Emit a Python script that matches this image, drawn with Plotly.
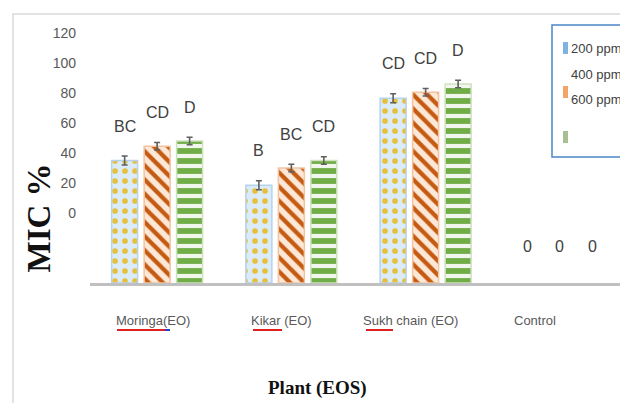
import plotly.graph_objects as go

# ---------------- data ----------------
categories = ["Moringa(EO)", "Kikar (EO)", "Sukh chain (EO)", "Control"]
series_names = ["200 ppm", "400 ppm", "600 ppm"]
mic_200 = [35.0, 18.5, 76.5, 0]
mic_400 = [44.5, 30.0, 80.5, 0]
mic_600 = [48.0, 35.0, 86.0, 0]
err_200 = [3.0, 3.0, 3.0, 0]
err_400 = [2.5, 2.5, 2.5, 0]
err_600 = [2.5, 2.5, 2.5, 0]
letters_200 = ["BC", "B", "CD", ""]
letters_400 = ["CD", "BC", "CD", ""]
letters_600 = ["D", "CD", "D", ""]
y_ticks = [0, 20, 40, 60, 80, 100, 120]

# ---------------- layout constants ----------------
OFF = 8                     # page body margin
W, H = 628 - OFF, 411 - 2 * OFF   # avoid a vertical scrollbar
# plot area in page pixels: x 90..627, y 26..283
ML = 90 - OFF
MR = W - (627 - OFF)
MT = 26 - OFF
MB = H - (283 - OFF)
PW, PH = W - ML - MR, H - MT - MB
Y_MIN, Y_MAX = -46.67, 124.67   # horizontal axis sits at the axis minimum
BASE = Y_MIN
SLOT = 0.242                      # group offset of each bar (category units)

def px_x(px):  # page px -> paper
    return (px - 90) / PW

def px_y(py):  # page px -> paper
    return (283 - py) / PH

styles = [
    dict(shape=".", fg="#e6c03a", bg="#dcebf8", line="#b7d2ec", size=10, sol=0.25),
    dict(shape="\\", fg="#c55a11", bg="#fde8d8", line="#f3c3a0", size=10, sol=0.42),
    dict(shape="-", fg="#70ad47", bg="#f1f7ec", line="#cfe2c0", size=10, sol=0.58),
]
all_vals = [mic_200, mic_400, mic_600]
all_errs = [err_200, err_400, err_600]
all_letters = [letters_200, letters_400, letters_600]

fig = go.Figure()
for j, (name, vals, errs, st) in enumerate(zip(series_names, all_vals, all_errs, styles)):
    ys = [None if c == "Control" else v - BASE for c, v in zip(categories, vals)]
    fig.add_trace(go.Bar(
        name=name, x=categories, y=ys, base=BASE,
        marker=dict(
            color=st["bg"],
            line=dict(color=st["line"], width=1.5),
            pattern=dict(shape=st["shape"], fgcolor=st["fg"], bgcolor=st["bg"],
                         size=st["size"], solidity=st["sol"], fillmode="replace"),
        ),
        error_y=dict(type="data", array=[None if c == "Control" else e for c, e in zip(categories, errs)],
                     color="#5f5f5f", thickness=1.6, width=3),
        showlegend=False,
    ))

SANS = "Liberation Sans, Arial, sans-serif"
SERIF = "Liberation Serif, Times New Roman, serif"

annotations = []
letter_font = dict(family=SANS, size=16, color="#404040")
for j in range(3):
    for i, c in enumerate(categories):
        xpos = i + (j - 1) * SLOT
        if c == "Control":
            annotations.append(dict(x=xpos, y=-22, xref="x", yref="y", text=str(all_vals[j][i]),
                                    showarrow=False, font=letter_font,
                                    xanchor="center", yanchor="middle"))
        else:
            annotations.append(dict(x=xpos, y=all_vals[j][i] + all_errs[j][i], xref="x", yref="y",
                                    text=all_letters[j][i], showarrow=False, font=letter_font,
                                    xanchor="center", yanchor="middle", yshift=30))

# category labels (drawn slightly left of centre as in the reference)
cat_px = [153, 281, 410, 535]
for c, p in zip(categories, cat_px):
    annotations.append(dict(x=px_x(p), y=px_y(320), xref="paper", yref="paper", text=c,
                            showarrow=False, xanchor="center", yanchor="middle",
                            font=dict(family=SANS, size=13, color="#595959")))

# axis titles
annotations.append(dict(x=px_x(38.5), y=px_y(218), xref="paper", yref="paper", text="<b>MIC %</b>",
                        textangle=-90, showarrow=False, xanchor="center", yanchor="middle",
                        font=dict(family=SERIF, size=33, color="#111111")))
annotations.append(dict(x=px_x(317), y=px_y(388), xref="paper", yref="paper", text="<b>Plant (EOS)</b>",
                        showarrow=False, xanchor="center", yanchor="middle",
                        font=dict(family=SERIF, size=19, color="#111111")))

# custom legend
leg_font = dict(family=SANS, size=13, color="#404040")
leg_text_y = [48, 74, 99]
for name, ty in zip(series_names, leg_text_y):
    annotations.append(dict(x=px_x(569), y=px_y(ty), xref="paper", yref="paper", text=name,
                            showarrow=False, xanchor="left", yanchor="middle", font=leg_font))

shapes = [
    # outer chart frame
    dict(type="rect", xref="paper", yref="paper", x0=px_x(13), x1=1.2, y0=-0.8, y1=px_y(14),
         line=dict(color="#d9d9d9", width=1.5), fillcolor="rgba(0,0,0,0)", layer="below"),
    # legend box
    dict(type="rect", xref="paper", yref="paper", x0=px_x(552), x1=px_x(640), y0=px_y(157), y1=px_y(25),
         line=dict(color="#4a86c8", width=1.5), fillcolor="white", layer="above"),
    # legend swatches
    dict(type="rect", xref="paper", yref="paper", x0=px_x(563), x1=px_x(568), y0=px_y(54), y1=px_y(42),
         line=dict(width=0), fillcolor="#7fb2de", layer="above"),
    dict(type="rect", xref="paper", yref="paper", x0=px_x(563), x1=px_x(568), y0=px_y(98), y1=px_y(86),
         line=dict(width=0), fillcolor="#f0a468", layer="above"),
    dict(type="rect", xref="paper", yref="paper", x0=px_x(563), x1=px_x(568), y0=px_y(143), y1=px_y(131),
         line=dict(width=0), fillcolor="#a8bf92", layer="above"),
]
# red spell-check underlines under category names
for x0, x1, col in [(117, 165, "#e02020"), (165, 170, "#2040d0"), (253, 282, "#e02020"), (366, 393, "#e02020")]:
    shapes.append(dict(type="line", xref="paper", yref="paper", x0=px_x(x0), x1=px_x(x1),
                       y0=px_y(330), y1=px_y(330), line=dict(color=col, width=2)))

fig.update_layout(
    width=W, height=H,
    margin=dict(l=ML, r=MR, t=MT, b=MB, pad=0, autoexpand=False),
    paper_bgcolor="white", plot_bgcolor="white",
    barmode="group", bargap=0.274, bargroupgap=0.2,
    showlegend=False,
    annotations=annotations,
    shapes=shapes,
    xaxis=dict(type="category", showticklabels=False, ticks="", showgrid=False, zeroline=False,
               showline=True, linecolor="#c0c0c0", linewidth=3, range=[-0.5, 3.5], fixedrange=True),
    yaxis=dict(range=[Y_MIN, Y_MAX], tickmode="array", tickvals=y_ticks,
               ticktext=[str(t) for t in y_ticks], ticks="", showgrid=False, zeroline=False,
               showline=False, ticklabelstandoff=13,
               tickfont=dict(family=SANS, size=14, color="#595959")),
)

fig.write_html("out.html")
